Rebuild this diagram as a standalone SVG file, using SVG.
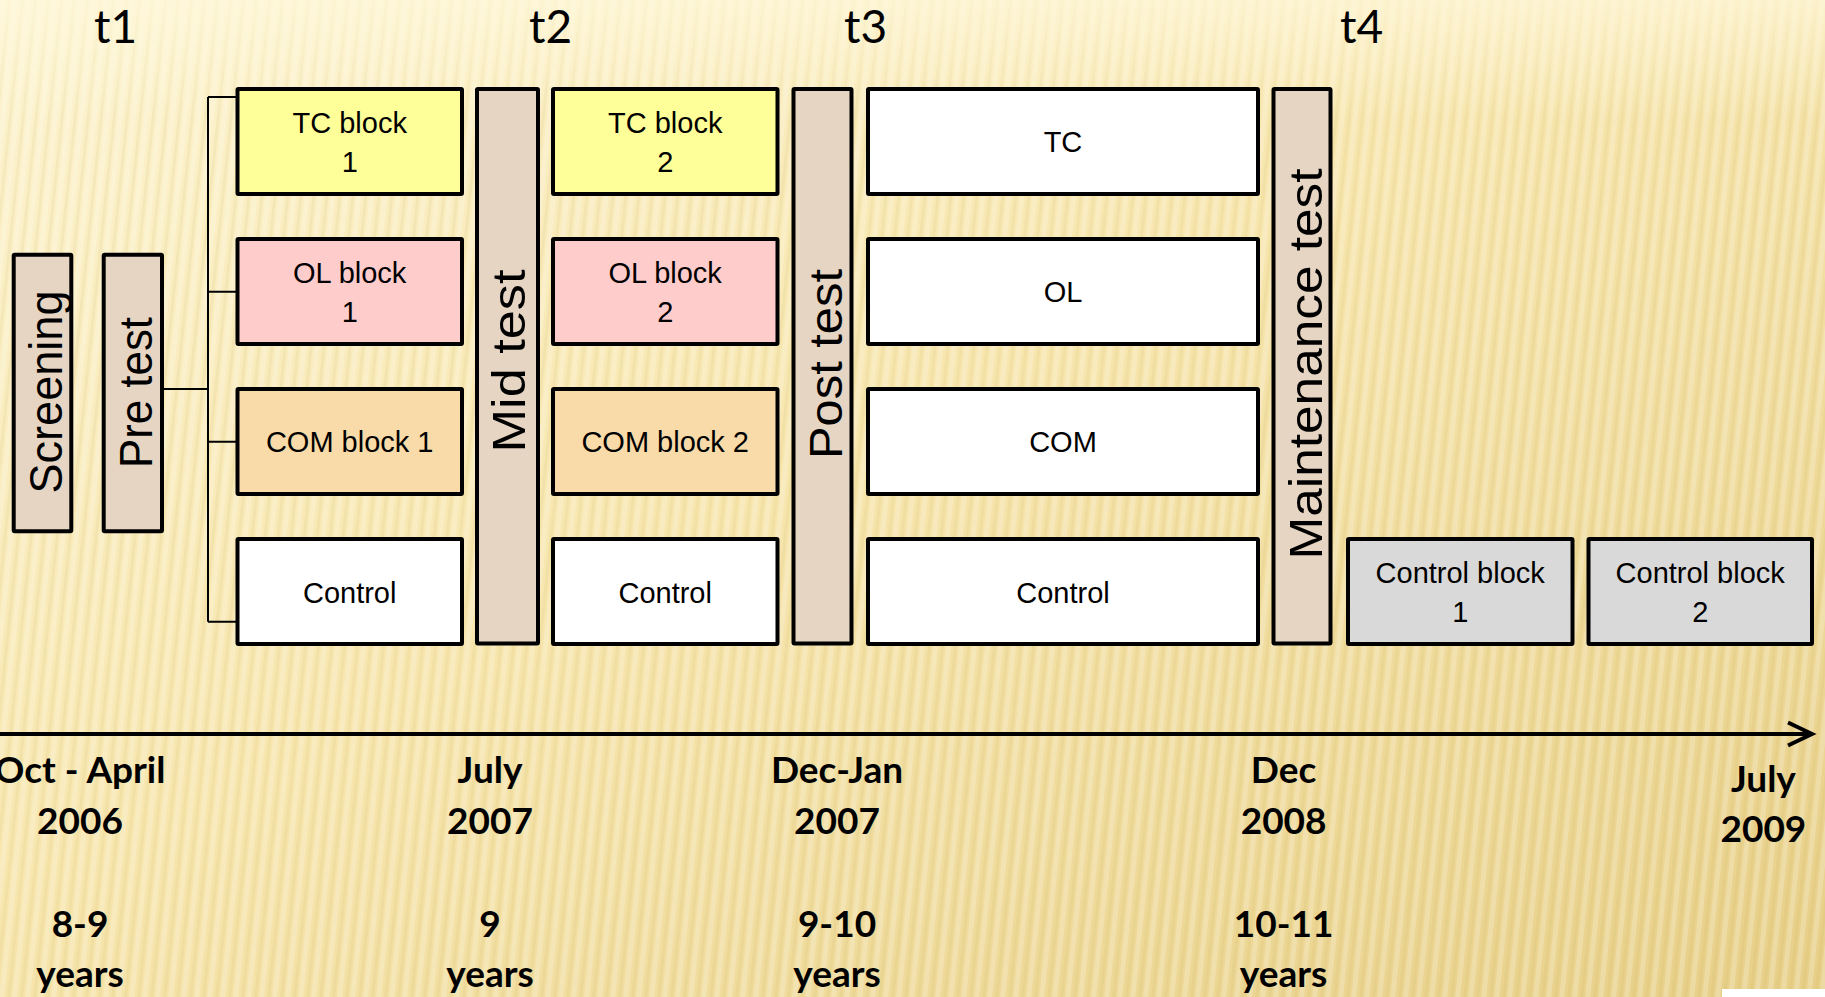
<svg xmlns="http://www.w3.org/2000/svg" width="1825" height="997" viewBox="0 0 1825 997">
<defs>
<linearGradient id="bg" x1="0" y1="0" x2="1" y2="1">
<stop offset="0" stop-color="#FCF3CF"/>
<stop offset="0.45" stop-color="#F7E6AE"/>
<stop offset="1" stop-color="#E7CF88"/>
</linearGradient>
<linearGradient id="topfade" x1="0" y1="0" x2="0" y2="1">
<stop offset="0" stop-color="#FFF8DC" stop-opacity="0.7"/>
<stop offset="1" stop-color="#FFF8DC" stop-opacity="0"/>
</linearGradient>
<pattern id="stripes" width="13" height="40" patternUnits="userSpaceOnUse" patternTransform="skewX(-6)">
<rect x="0" y="0" width="5" height="40" fill="#FFFFFF" opacity="0.22"/>
<rect x="8" y="0" width="3" height="40" fill="#B08A2A" opacity="0.07"/>
</pattern>
<style>
.box{stroke:#000;stroke-width:4;}
.tc{fill:#FFFF99;}
.ol{fill:#FFCCCC;}
.com{fill:#F8DBA8;}
.wh{fill:#FFFFFF;}
.gr{fill:#D9D9D9;}
.bar{fill:#E6D5C3;}
.bt{font-family:"Liberation Sans",Arial,sans-serif;font-size:29px;fill:#000;text-anchor:middle;}
.vt{font-family:"Liberation Sans",Arial,sans-serif;font-size:46px;fill:#000;text-anchor:middle;}
.tl{font-family:Lato,"Liberation Sans",sans-serif;font-size:46px;fill:#000;}
.dl{font-family:Lato,"Liberation Sans",sans-serif;font-size:37px;font-weight:bold;fill:#000;text-anchor:middle;}
.ln{stroke:#000;stroke-width:2;fill:none;}
</style>
</defs>
<rect width="1825" height="997" fill="url(#bg)"/>
<rect width="1825" height="997" fill="url(#stripes)"/>
<rect width="1825" height="120" fill="url(#topfade)"/>

<g id="time-labels">
<text class="tl" x="94" y="43">t1</text>
<text class="tl" x="529" y="43">t2</text>
<text class="tl" x="844" y="43">t3</text>
<text class="tl" x="1340" y="43">t4</text>
</g>

<g id="connectors">
<path class="ln" d="M208 97 V621.7 M208 97 H236 M208 291.7 H236 M208 441.7 H236 M208 621.7 H236 M164 389 H208"/>
<line x1="0" y1="734" x2="1810" y2="734" stroke="#000" stroke-width="4"/>
<polyline points="1788,722.5 1812,734 1788,745.5" fill="none" stroke="#000" stroke-width="4" stroke-linejoin="miter"/>
</g>

<g id="screening">
<rect class="box bar" x="13.7" y="254.7" width="57.6" height="276.6" rx="1"/>
<text class="vt" transform="translate(62,392) rotate(-90)" textLength="203" lengthAdjust="spacingAndGlyphs">Screening</text>
</g>
<g id="pre-test">
<rect class="box bar" x="103.7" y="254.7" width="58.3" height="276.6" rx="1"/>
<text class="vt" transform="translate(151.7,392.5) rotate(-90)" textLength="151" lengthAdjust="spacingAndGlyphs">Pre test</text>
</g>

<g id="tc-block-1">
<rect class="box tc" x="237.5" y="89" width="224.5" height="105" rx="1"/>
<text class="bt" x="349.7" y="133.3">TC block</text>
<text class="bt" x="349.7" y="171.7">1</text>
</g>
<g id="ol-block-1">
<rect class="box ol" x="237.5" y="239" width="224.5" height="105" rx="1"/>
<text class="bt" x="349.7" y="283.3">OL block</text>
<text class="bt" x="349.7" y="321.7">1</text>
</g>
<g id="com-block-1">
<rect class="box com" x="237.5" y="389" width="224.5" height="105" rx="1"/>
<text class="bt" x="349.7" y="452.3">COM block 1</text>
</g>
<g id="control-1">
<rect class="box wh" x="237.5" y="539" width="224.5" height="105" rx="1"/>
<text class="bt" x="349.7" y="603">Control</text>
</g>

<g id="mid-test">
<rect class="box bar" x="477" y="89" width="61" height="554.5" rx="1"/>
<text class="vt" transform="translate(525,361) rotate(-90)" textLength="183" lengthAdjust="spacingAndGlyphs">Mid test</text>
</g>

<g id="tc-block-2">
<rect class="box tc" x="553" y="89" width="224.5" height="105" rx="1"/>
<text class="bt" x="665.2" y="133.3">TC block</text>
<text class="bt" x="665.2" y="171.7">2</text>
</g>
<g id="ol-block-2">
<rect class="box ol" x="553" y="239" width="224.5" height="105" rx="1"/>
<text class="bt" x="665.2" y="283.3">OL block</text>
<text class="bt" x="665.2" y="321.7">2</text>
</g>
<g id="com-block-2">
<rect class="box com" x="553" y="389" width="224.5" height="105" rx="1"/>
<text class="bt" x="665.2" y="452.3">COM block 2</text>
</g>
<g id="control-2">
<rect class="box wh" x="553" y="539" width="224.5" height="105" rx="1"/>
<text class="bt" x="665.2" y="603">Control</text>
</g>

<g id="post-test">
<rect class="box bar" x="793.5" y="89" width="58" height="554.5" rx="1"/>
<text class="vt" transform="translate(841.7,364) rotate(-90)" textLength="190" lengthAdjust="spacingAndGlyphs">Post test</text>
</g>

<g id="tc">
<rect class="box wh" x="868" y="89" width="390" height="105" rx="1"/>
<text class="bt" x="1063" y="152">TC</text>
</g>
<g id="ol">
<rect class="box wh" x="868" y="239" width="390" height="105" rx="1"/>
<text class="bt" x="1063" y="302">OL</text>
</g>
<g id="com">
<rect class="box wh" x="868" y="389" width="390" height="105" rx="1"/>
<text class="bt" x="1063" y="452.3">COM</text>
</g>
<g id="control-3">
<rect class="box wh" x="868" y="539" width="390" height="105" rx="1"/>
<text class="bt" x="1063" y="603">Control</text>
</g>

<g id="maintenance-test">
<rect class="box bar" x="1273.5" y="89" width="57" height="554.5" rx="1"/>
<text class="vt" transform="translate(1321.7,364) rotate(-90)" textLength="391" lengthAdjust="spacingAndGlyphs">Maintenance test</text>
</g>

<g id="control-block-1">
<rect class="box gr" x="1348" y="539" width="224.5" height="105" rx="1"/>
<text class="bt" x="1460.2" y="583.3">Control block</text>
<text class="bt" x="1460.2" y="621.7">1</text>
</g>
<g id="control-block-2">
<rect class="box gr" x="1588.5" y="539" width="223.5" height="105" rx="1"/>
<text class="bt" x="1700.2" y="583.3">Control block</text>
<text class="bt" x="1700.2" y="621.7">2</text>
</g>

<g id="date-labels">
<text class="dl" x="80" y="783">Oct - April</text>
<text class="dl" x="80" y="834">2006</text>
<text class="dl" x="80" y="937">8-9</text>
<text class="dl" x="80" y="987">years</text>
<text class="dl" x="490" y="783">July</text>
<text class="dl" x="490" y="834">2007</text>
<text class="dl" x="490" y="937">9</text>
<text class="dl" x="490" y="987">years</text>
<text class="dl" x="837" y="783">Dec-Jan</text>
<text class="dl" x="837" y="834">2007</text>
<text class="dl" x="837" y="937">9-10</text>
<text class="dl" x="837" y="987">years</text>
<text class="dl" x="1283.6" y="783">Dec</text>
<text class="dl" x="1283.6" y="834">2008</text>
<text class="dl" x="1283.6" y="937">10-11</text>
<text class="dl" x="1283.6" y="987">years</text>
<text class="dl" x="1763.4" y="792">July</text>
<text class="dl" x="1763.4" y="842">2009</text>
</g>
<rect x="1722" y="989" width="103" height="8" fill="#FFFFFF"/>
</svg>
